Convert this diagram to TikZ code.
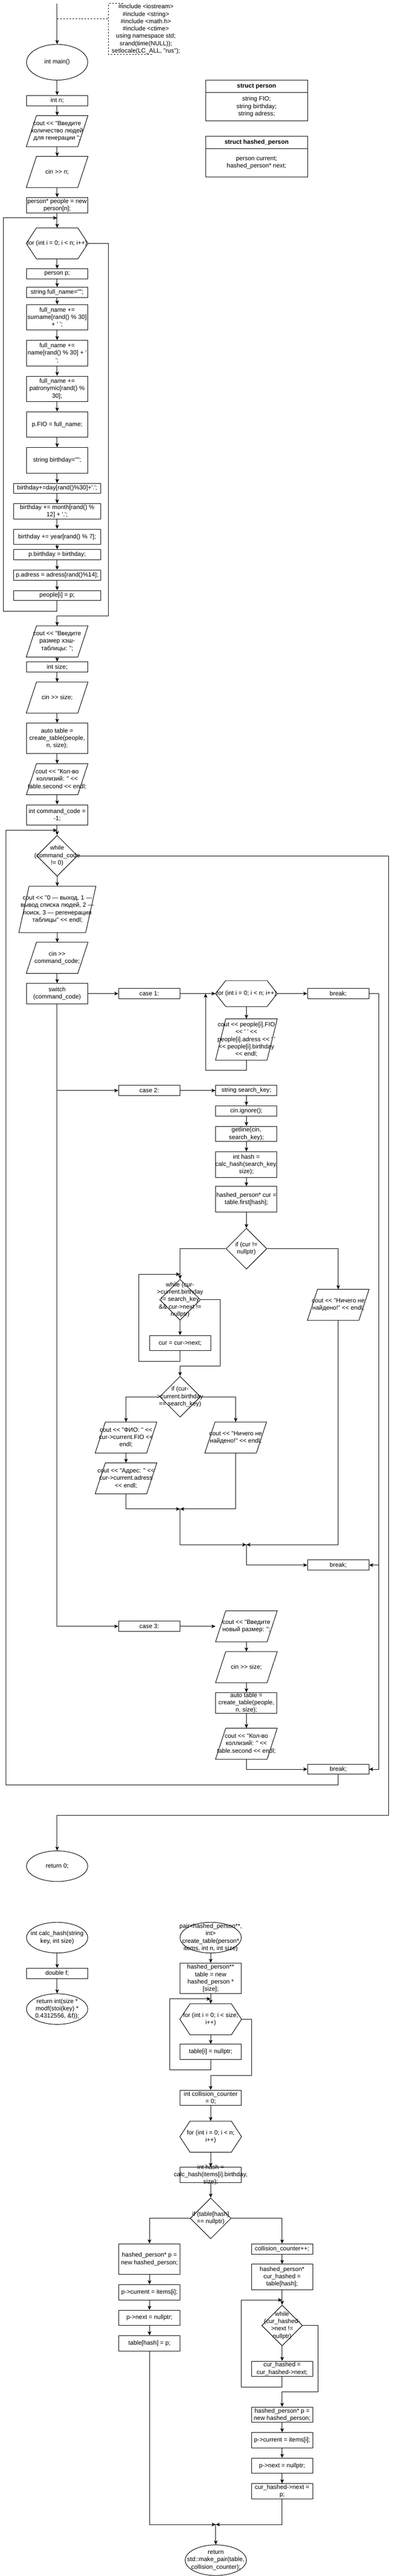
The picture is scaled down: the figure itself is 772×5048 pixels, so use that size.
\documentclass[tikz,border=0pt]{standalone}
\usepackage{fontspec}
\newfontfamily\diofont{Liberation Sans}
\usetikzlibrary{shapes.geometric,arrows.meta}

\tikzset{
  txt/.style={label={center:{#1}}},
  proc/.style={draw, rectangle, minimum width=120, minimum height=20, inner sep=0},
  io/.style={rectangle, minimum width=120, minimum height=60, inner sep=0},
  prep/.style={rectangle, minimum width=120, minimum height=60, inner sep=0},
  cond/.style={draw, diamond, minimum width=80, minimum height=80, inner sep=0},
  term/.style={draw, ellipse, minimum width=120, minimum height=60, inner sep=0},
  arr/.style={-{Stealth[length=8pt,width=7pt,inset=2pt]}},
}

\begin{document}
\begin{tikzpicture}[x=1pt, y=-1pt, line width=1pt,
  font=\diofont\fontsize{12}{14.4}\selectfont,
  every label/.append style={align=center, inner sep=0}]
\path[use as bounding box, fill=white] (0,0) rectangle (772,5048);

% header and structs
\coordinate (top) at (112,7);
\coordinate (cj) at (112,37);
\coordinate (cb) at (213,37);
\node[align=center, inner sep=0] (incl) at (286,57) {\#include <iostream>\\\#include <string>\\\#include <math.h>\\\#include <ctime>\\using namespace std;\\srand(time(NULL));\\setlocale(LC\_ALL, "rus");};
\draw[dashed] (cj) -- (cb);
\draw[dashed] (241,7) -- (213,7) -- (213,107) -- (300,107);

\node[proc, minimum width=200, minimum height=24, font=\diofont\fontsize{12}{14.4}\selectfont\bfseries] (sph) at (503,169) {struct person};
\node[proc, minimum width=200, minimum height=56, align=center] (spb) at (503,209) {string FIO;\\string birthday;\\string adress;};
\node[proc, minimum width=200, minimum height=24, font=\diofont\fontsize{12}{14.4}\selectfont\bfseries] (hph) at (503,279) {struct hashed\_person};
\node[proc, minimum width=200, minimum height=56, align=center] (hpb) at (503,319) {person current;\\hashed\_person* next;};

% main
\node[term, minimum height=70, txt={int main()}] (main) at (112,122) {};
\node[proc, txt={int n;}] (intn) at (112,197) {};
\node[io, txt={cout << "Введите\\количество людей\\для генерации ";}] (inn) at (112,257) {};
\node[io, txt={cin >> n;}] (cinn) at (112,337) {};
\node[proc, minimum height=30, txt={person* people = new\\person[n];}] (people) at (112,402) {};
\coordinate (j1) at (112,427);
\coordinate (lp1) at (7,427);
\node[prep, txt={for (int i = 0; i < n; i++)}] (for1) at (112,477) {};
\node[proc, txt={person p;}] (pp) at (112,537) {};
\node[proc, txt={string full\_name="";}] (fn0) at (112,573) {};
\node[proc, minimum height=50, txt={full\_name +=\\surname[rand() \% 30]\\+ ' ';}] (fn1) at (112,622) {};
\node[proc, minimum height=50, txt={full\_name +=\\name[rand() \% 30] + '\\';}] (fn2) at (112,692) {};
\node[proc, minimum height=50, txt={full\_name +=\\patronymic[rand() \%\\30];}] (fn3) at (112,762) {};
\node[proc, minimum height=50, txt={p.FIO = full\_name;}] (fio) at (112,832) {};
\node[proc, minimum height=50, txt={string birthday="";}] (bd0) at (112,902) {};
\node[proc, minimum width=170, txt={birthday+=day[rand()\%30]+'.';}] (bd1) at (112,957) {};
\node[proc, minimum width=170, minimum height=30, txt={birthday += month[rand() \%\\12] + '.';}] (bd2) at (112,1002) {};
\node[proc, minimum width=170, minimum height=30, txt={birthday += year[rand() \% 7];}] (bd3) at (112,1052) {};
\node[proc, minimum width=170, txt={p.birthday = birthday;}] (bd4) at (112,1087) {};
\node[proc, minimum width=170, txt={p.adress = adress[rand()\%14];}] (adr) at (112,1127) {};
\node[proc, minimum width=170, txt={people[i] = p;}] (pi) at (112,1167) {};
\coordinate (ex1) at (213,1207);
\node[io, txt={cout << "Введите\\размер хэш-\\таблицы: ";}] (insz) at (112,1257) {};
\node[proc, txt={int size;}] (size) at (112,1307) {};
\node[io, txt={cin >> size;}] (cinsz) at (112,1367) {};
\node[proc, minimum height=60, txt={auto table =\\create\_table(people,\\n, size);}] (tab) at (112,1447) {};
\node[io, txt={cout << "Кол-во\\коллизий: " <<\\table.second << endl;}] (coll) at (112,1527) {};
\node[proc, minimum height=40, txt={int command\_code =\\-1;}] (cmd) at (112,1597) {};
\coordinate (j2) at (112,1627);
\coordinate (lp2) at (12,1627);
\node[cond, txt={while\\(command\_code\\!= 0)}] (wh1) at (112,1677) {};
\node[io, minimum width=150, minimum height=90, txt={cout << "0 — выход, 1 —\\вывод списка людей, 2 —\\поиск, 3 — регенерация\\таблицы" << endl;}] (menu) at (112.5,1782) {};
\node[io, txt={cin >>\\command\_code;}] (cincmd) at (112,1877) {};
\node[proc, minimum height=40, txt={switch\\(command\_code)}] (sw) at (112,1947) {};

% case 1
\node[proc, txt={case 1:}] (c1) at (292.5,1947) {};
\node[prep, minimum height=50, txt={for (int i = 0; i < n; i++)}] (for2) at (483,1947) {};
\node[proc, txt={break;}] (br1) at (663,1947) {};
\node[io, minimum height=80, txt={cout << people[i].FIO\\<< ' ' <<\\people[i].adress << ' '\\<< people[i].birthday\\<< endl;}] (list) at (483,2037) {};
\coordinate (lp3) at (403,1947);

% case 2
\node[proc, txt={case 2:}] (c2) at (292.5,2137) {};
\node[proc, txt={string search\_key;}] (key) at (483,2137) {};
\node[proc, txt={cin.ignore();}] (ign) at (483,2177) {};
\node[proc, minimum height=30, txt={getline(cin,\\search\_key);}] (getl) at (483,2222) {};
\node[proc, minimum height=50, txt={int hash =\\calc\_hash(search\_key,\\size);}] (hash) at (483,2282) {};
\node[proc, minimum height=50, txt={hashed\_person* cur =\\table.first[hash];}] (cur) at (483,2350) {};
\node[cond, txt={if (cur !=\\nullptr)}] (if1) at (483,2447) {};
\node[io, txt={cout << "Ничего не\\найдено!" << endl;}] (none1) at (663,2557) {};
\coordinate (j3) at (353,2497);
\coordinate (lp4) at (272,2497);
\node[cond, txt={while (cur-\\>current.birthday\\!= search\_key\\\&\& cur->next !=\\nullptr)}] (wh2) at (353,2547) {};
\node[proc, minimum height=30, txt={cur = cur->next;}] (step) at (353,2632) {};
\coordinate (ex2) at (432,2677);
\node[cond, txt={if (cur-\\>current.birthday\\== search\_key)}] (if2) at (353,2737) {};
\node[io, txt={cout << "ФИО: " <<\\cur->current.FIO <<\\endl;}] (ofio) at (247,2817) {};
\node[io, txt={cout << "Адрес: " <<\\cur->current.adress\\<< endl;}] (oadr) at (247,2897) {};
\node[io, txt={cout << "Ничего не\\найдено!" << endl;}] (none2) at (462,2817) {};
\coordinate (m1) at (353,2957);
\coordinate (m2) at (483,3027);
\node[proc, txt={break;}] (br2) at (663,3067) {};
\coordinate (rb) at (743,3067);

% case 3
\node[proc, txt={case 3:}] (c3) at (292.5,3187) {};
\node[io, txt={cout << "Введите\\новый размер: ";}] (newsz) at (483,3187) {};
\node[io, txt={cin >> size;}] (cinsz2) at (483,3267) {};
\node[proc, minimum height=40, txt={auto table =\\create\_table(people,\\n, size);}] (tab2) at (483,3337) {};
\node[io, txt={cout << "Кол-во\\коллизий: " <<\\table.second << endl;}] (coll2) at (483,3417) {};
\node[proc, txt={break;}] (br3) at (663,3467) {};
\coordinate (rw) at (762,3557);
\node[term, txt={return 0;}] (ret0) at (112,3657) {};

% calc_hash
\node[term, txt={int calc\_hash(string\\key, int size)}] (ch0) at (112,3797) {};
\node[proc, txt={double f;}] (ch1) at (112,3867) {};
\node[term, txt={return int(size *\\modf(stoi(key) *\\0.4312556, \&f));}] (ch2) at (112,3937) {};

% create_table
\node[term, txt={pair<hashed\_person**,\\int>\\create\_table(person*\\items, int n, int size)}] (ct0) at (413,3797) {};
\node[proc, minimum height=60, txt={hashed\_person**\\table = new\\hashed\_person *\\{}[size];}] (ct1) at (413,3877) {};
\coordinate (j4) at (413,3917);
\coordinate (lp5) at (333,3917);
\node[prep, txt={for (int i = 0; i < size;\\i++)}] (ct2) at (413,3957) {};
\node[proc, minimum height=30, txt={table[i] = nullptr;}] (ct3) at (413,4021) {};
\coordinate (ex3) at (493,4067);
\node[proc, minimum height=30, txt={int collision\_counter\\= 0;}] (ct4) at (413,4111) {};
\node[prep, txt={for (int i = 0; i < n;\\i++)}] (ct5) at (413,4187) {};
\node[proc, minimum height=30, txt={int hash =\\calc\_hash(items[i].birthday,\\size);}] (ct6) at (413,4262) {};
\node[cond, txt={if (table[hash]\\== nullptr)}] (ct7) at (413,4347) {};
\node[proc, minimum height=60, txt={hashed\_person* p =\\new hashed\_person;}] (ct8) at (293,4427) {};
\node[proc, minimum height=30, txt={p->current = items[i];}] (ct9) at (293,4492) {};
\node[proc, minimum height=30, txt={p->next = nullptr;}] (ct10) at (293,4542) {};
\node[proc, minimum height=30, txt={table[hash] = p;}] (ct11) at (293,4592) {};
\node[proc, txt={collision\_counter++;}] (ct12) at (553,4407) {};
\node[proc, minimum height=50, txt={hashed\_person*\\cur\_hashed =\\table[hash];}] (ct13) at (553,4462) {};
\coordinate (j5) at (553,4507);
\coordinate (lp6) at (473,4507);
\node[cond, txt={while\\(cur\_hashed-\\>next !=\\nullptr)}] (ct14) at (553,4557) {};
\node[proc, minimum height=30, txt={cur\_hashed =\\cur\_hashed->next;}] (ct15) at (553,4642) {};
\coordinate (ex4) at (623,4687);
\node[proc, minimum height=30, txt={hashed\_person* p =\\new hashed\_person;}] (ct16) at (553,4732) {};
\node[proc, minimum height=30, txt={p->current = items[i];}] (ct17) at (553,4782) {};
\node[proc, minimum height=30, txt={p->next = nullptr;}] (ct18) at (553,4832) {};
\node[proc, minimum height=30, txt={cur\_hashed->next =\\p;}] (ct19) at (553,4882) {};
\coordinate (m3) at (423,4947);
\node[term, txt={return\\std::make\_pair(table,\\collision\_counter);}] (ct20) at (423,5017) {};

% io and loop outlines
\foreach \n in {inn,cinn,insz,cinsz,coll,menu,cincmd,list,none1,ofio,oadr,none2,newsz,cinsz2,coll2}
  \draw ([xshift=20]\n.north west) -- (\n.north east) -- ([xshift=-20]\n.south east) -- (\n.south west) -- cycle;
\foreach \n in {for1,for2,ct2,ct5}
  \draw ([xshift=20]\n.north west) -- ([xshift=-20]\n.north east) -- (\n.east) -- ([xshift=-20]\n.south east) -- ([xshift=20]\n.south west) -- (\n.west) -- cycle;

% straight arrows
\foreach \a/\b in {top/main,main/intn,intn/inn,inn/cinn,cinn/people,people/for1,for1/pp,pp/fn0,fn0/fn1,fn1/fn2,fn2/fn3,fn3/fio,fio/bd0,bd0/bd1,bd1/bd2,bd2/bd3,bd3/bd4,bd4/adr,adr/pi,
  insz/size,size/cinsz,cinsz/tab,tab/coll,coll/cmd,cmd/wh1,wh1/menu,menu/cincmd,cincmd/sw,
  sw/c1,c1/for2,for2/br1,for2/list,c2/key,key/ign,ign/getl,getl/hash,hash/cur,cur/if1,wh2/step,ofio/oadr,
  c3/newsz,newsz/cinsz2,cinsz2/tab2,tab2/coll2,
  ch0/ch1,ch1/ch2,ct0/ct1,ct1/ct2,ct2/ct3,ct4/ct5,ct5/ct6,ct6/ct7,ct8/ct9,ct9/ct10,ct10/ct11,
  ct12/ct13,ct13/ct14,ct14/ct15,ct16/ct17,ct17/ct18,ct18/ct19,m3/ct20}
  \draw[arr] (\a) -- (\b);

% bent arrows
\draw[arr] (pi.south) -- ++(0,20) -| (lp1) -- (j1);
\draw[arr] (for1.east) -| (ex1) -| (insz.north);
\draw[arr] (wh1.east) -| (rw) -| (ret0.north);
\draw[arr] (br3.south) -- ++(0,20) -| (lp2) -- (j2);
\draw[arr] (sw.south) |- (c2);
\draw[arr] (sw.south) |- (c3);
\draw[arr] (list.south) -- ++(0,20) -| (lp3);
\draw[arr] (br1.east) -| (rb) -- (br2.east);
\draw[arr] (rb) |- (br3.east);
\draw[arr] (if1.west) -| (wh2.north);
\draw[arr] (if1.east) -| (none1.north);
\draw[arr] (step.south) -- ++(0,20) -| (lp4) -- (j3);
\draw[arr] (wh2.east) -| (ex2) -| (if2.north);
\draw[arr] (if2.west) -| (ofio.north);
\draw[arr] (if2.east) -| (none2.north);
\draw[arr] (oadr.south) |- (m1);
\draw[arr] (none2.south) |- (m1);
\draw[arr] (m1) |- (m2);
\draw[arr] (none1.south) |- (m2);
\draw[arr] (m2) |- (br2);
\draw[arr] (coll2.south) |- (br3);
\draw[arr] (ct3.south) -- ++(0,20) -| (lp5) -- (j4);
\draw[arr] (ct2.east) -| (ex3) -| (ct4.north);
\draw[arr] (ct7.west) -| (ct8.north);
\draw[arr] (ct7.east) -| (ct12.north);
\draw[arr] (ct15.south) -- ++(0,20) -| (lp6) -- (j5);
\draw[arr] (ct14.east) -| (ex4) -| (ct16.north);
\draw[arr] (ct11.south) |- (m3);
\draw[arr] (ct19.south) |- (m3);
\end{tikzpicture}
\end{document}
